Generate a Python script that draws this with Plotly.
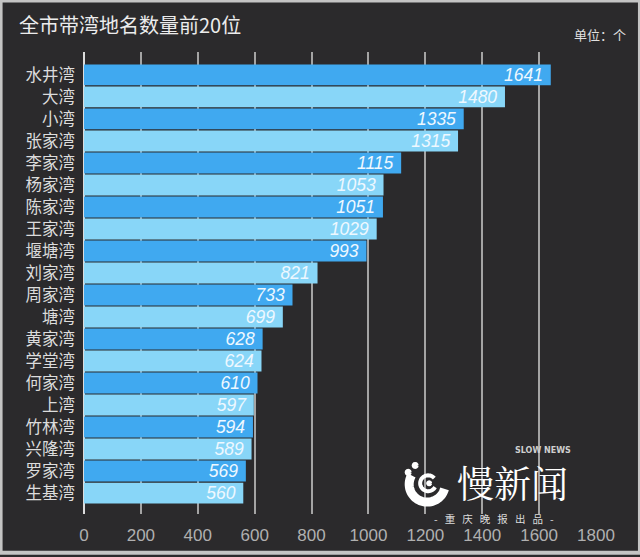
import math
import plotly.graph_objects as go

categories = ["水井湾", "大湾", "小湾", "张家湾", "李家湾", "杨家湾", "陈家湾", "王家湾", "堰塘湾", "刘家湾",
              "周家湾", "塘湾", "黄家湾", "学堂湾", "何家湾", "上湾", "竹林湾", "兴隆湾", "罗家湾", "生基湾"]
values = [1641, 1480, 1335, 1315, 1115, 1053, 1051, 1029, 993, 821,
          733, 699, 628, 624, 610, 597, 594, 589, 569, 560]
x_ticks = [0, 200, 400, 600, 800, 1000, 1200, 1400, 1600, 1800]
title_text = "全市带湾地名数量前20位"
unit_text = "单位：个"

W, H = 640, 557
L, R, T, B = 83.5, 596, 52, 518  # plot area in pixels

def px(x, y):
    return ((x - L) / (R - L), (B - y) / (B - T))

CJK = "Noto Sans CJK SC"
bar_colors = ["#40a9f0" if i % 2 == 0 else "#88d6f8" for i in range(len(values))]
ypos = list(range(len(categories)))

fig = go.Figure()
fig.add_trace(go.Bar(
    x=values, y=ypos, orientation="h",
    marker=dict(color=bar_colors, line=dict(width=0)),
    width=0.95,
    text=values,
    texttemplate="<i>%{text}</i>\u00a0",
    textposition="inside",
    insidetextanchor="end",
    constraintext="none",
    textfont=dict(color="#eef8ff", size=17.5, family="Liberation Sans"),
    hoverinfo="skip",
))

shapes = []
# outer light frame
x0, y0 = px(0, 0)
x1, y1 = px(W, H)
shapes.append(dict(type="rect", xref="paper", yref="paper", x0=x0, y0=y1, x1=x1, y1=y0,
                   line=dict(color="#c4c4c4", width=4), fillcolor="rgba(0,0,0,0)", layer="below"))

# logo icon (spiral-like C with inner ring)
def arc_path(cx, cy, r, a0, a1, n=40):
    pts = []
    for k in range(n + 1):
        a = math.radians(a0 + (a1 - a0) * k / n)
        pts.append(px(cx + r * math.cos(a), cy - r * math.sin(a)))
    return "M " + " L ".join(f"{p[0]:.5f},{p[1]:.5f}" for p in pts)

cx, cy = 427, 488
shapes.append(dict(type="path", xref="paper", yref="paper", path=arc_path(cx, cy, 18, 150, 345),
                   line=dict(color="white", width=9), layer="above"))
shapes.append(dict(type="path", xref="paper", yref="paper", path=arc_path(cx + 1, cy - 1, 8, 40, 330),
                   line=dict(color="white", width=4), layer="above"))
shapes.append(dict(type="path", xref="paper", yref="paper", path=arc_path(cx + 2, cy - 1, 1.5, 0, 360, 12),
                   line=dict(color="white", width=3), fillcolor="white", layer="above"))
for (dx, dy) in [(-19, -12), (-12, -19)]:
    shapes.append(dict(type="path", xref="paper", yref="paper", path=arc_path(cx + dx, cy + dy, 2, 0, 360, 12),
                       line=dict(color="white", width=3), fillcolor="white", layer="above"))

annotations = [
    dict(text=title_text, xref="paper", yref="paper", x=px(16, 0)[0], y=px(0, 24)[1],
         xanchor="left", yanchor="middle", showarrow=False,
         font=dict(family=CJK, size=20, color="#ececec")),
    dict(text=unit_text, xref="paper", yref="paper", x=px(628, 0)[0], y=px(0, 34)[1],
         xanchor="right", yanchor="middle", showarrow=False,
         font=dict(family=CJK, size=13, color="#e0e0e0")),
    dict(text="慢新闻", xref="paper", yref="paper", x=px(455, 0)[0], y=px(0, 486)[1],
         xanchor="left", yanchor="middle", showarrow=False,
         font=dict(family="Noto Serif CJK SC, " + CJK, size=37, color="#ffffff")),
    dict(text="<b>SLOW NEWS</b>", xref="paper", yref="paper", x=px(543, 0)[0], y=px(0, 454)[1],
         xanchor="center", yanchor="middle", showarrow=False,
         font=dict(family="DejaVu Sans", size=8, color="#cfcfcf")),
    dict(text="-   重   庆   晚   报   出   品   -", xref="paper", yref="paper", x=px(494, 0)[0], y=px(0, 523)[1],
         xanchor="center", yanchor="middle", showarrow=False,
         font=dict(family=CJK, size=10.5, color="#dcdcdc")),
]

fig.update_layout(
    width=W, height=H,
    margin=dict(l=L, r=W - R, t=T, b=H - B, pad=0),
    paper_bgcolor="#2b2a2c",
    plot_bgcolor="#2b2a2c",
    showlegend=False,
    shapes=shapes,
    annotations=annotations,
    xaxis=dict(
        range=[0, 1800], tickvals=x_ticks, ticktext=[str(v) for v in x_ticks],
        showgrid=True, gridcolor="#a4a4a4", gridwidth=1.5,
        zeroline=True, zerolinecolor="#dcdcdc", zerolinewidth=2,
        showline=False, ticks="", ticklabelstandoff=9,
        tickfont=dict(family="Liberation Sans", size=17, color="#b0b0b0"),
        fixedrange=True,
    ),
    yaxis=dict(
        range=[19.95, -1.04], tickvals=ypos, ticktext=categories,
        showgrid=False, zeroline=False, showline=False, ticks="",
        ticklabelstandoff=8,
        tickfont=dict(family=CJK, size=16.5, color="#dcdcdc"),
        fixedrange=True,
    ),
)

fig.write_html("out.html", config={"displayModeBar": False},
               post_script="document.body.style.margin='0';document.body.style.overflow='hidden';")
